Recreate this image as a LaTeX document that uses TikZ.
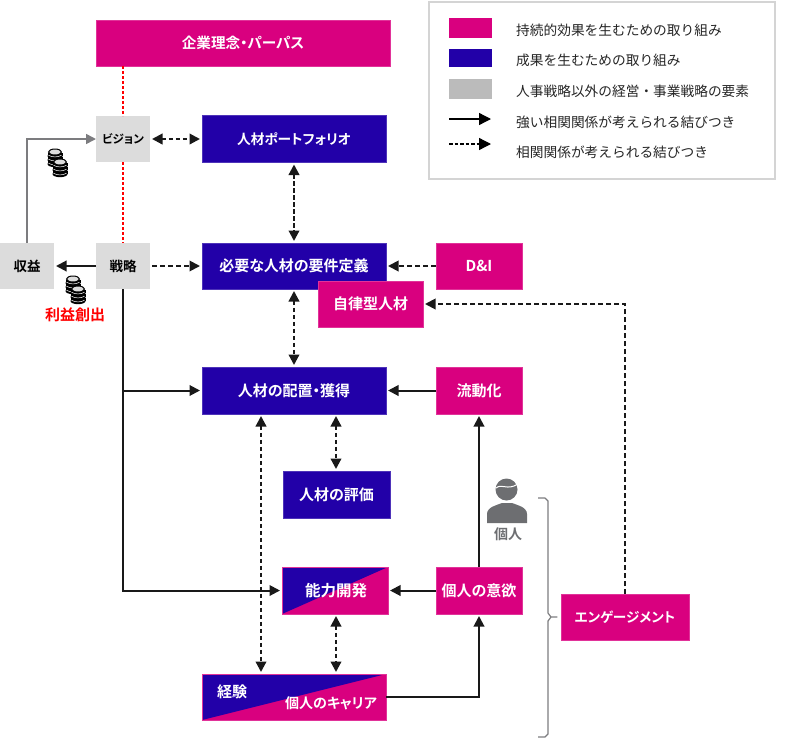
\documentclass[tikz,border=0pt]{standalone}
\usepackage{fontspec}
\setmainfont{Noto Sans CJK JP}
\newfontfamily\jpb{Noto Sans CJK JP Bold}[RawFeature=+palt]
\usetikzlibrary{arrows.meta}
\definecolor{mag}{HTML}{D9007F}
\definecolor{blu}{HTML}{2200A8}
\definecolor{lgr}{HTML}{DCDCDC}
\definecolor{mgr}{HTML}{BBBBBB}
\definecolor{dgr}{HTML}{6D6E71}
\newcommand{\bfs}[1]{\jpb\fontsize{#1}{#1}\selectfont}
\tikzset{
  x=1pt,y=-1pt,
  boxbase/.style={inner sep=0pt,outer sep=0pt,font=\bfs{15},text=white,draw=#1!80!white,line width=.5pt,fill=#1},
  pinkbox/.style={boxbase=mag},
  bluebox/.style={boxbase=blu},
  greybox/.style={inner sep=0pt,outer sep=0pt,fill=lgr,text=black,font=\bfs{13.5}},
  overtext/.style={inner sep=0pt,text=white},
  legendtext/.style={anchor=west,inner sep=0pt,font=\fontsize{13.7}{15}\selectfont,text=black!85},
  swatch/.style={inner sep=0pt,outer sep=0pt,minimum width=43pt,minimum height=20pt},
  headone/.tip={Triangle[length=10.5pt,width=10.5pt]},
  solidlink/.style={line width=2pt,black!90,-headone,shorten >=2pt},
  dashlink/.style={line width=1.9pt,black!90,dash pattern=on 5pt off 3pt,-headone,shorten >=2pt},
  duallink/.style={line width=2.2pt,black!90,dash pattern=on 4.5pt off 2.5pt,headone-headone,shorten >=2pt,shorten <=2pt},
  coinpic/.pic={
    \foreach \yy in {9,5,1}{
      \fill[black] (0,\yy+3) ellipse[x radius=7.5,y radius=3.2];
      \fill[black] (-7.5,\yy) rectangle (7.5,\yy+3);
      \draw[white,line width=.5pt] (-6.5,\yy+2.2) .. controls (-3,\yy+4.5) and (3,\yy+4.5) .. (6.5,\yy+2.2);
    }
    \fill[lgr,draw=black,line width=1pt] (0,0) ellipse[x radius=6.5,y radius=3];
  }
}
\begin{document}
\begin{tikzpicture}
\useasboundingbox (0,0) rectangle (800,742);

\node[pinkbox,font=\bfs{14.6},minimum width=294pt,minimum height=46pt] (top) at (243,43) {企業理念・パーパス};
\node[greybox,font=\bfs{11.6},minimum width=54pt,minimum height=46pt] (vis) at (123,139) {ビジョン};
\node[bluebox,font=\bfs{13.7},minimum width=184pt,minimum height=47pt] (port) at (294,139) {人材ポートフォリオ};
\node[greybox,minimum width=54pt,minimum height=46pt] (strat) at (123,266) {戦略};
\node[greybox,minimum width=54pt,minimum height=46pt] (inc) at (27,266) {収益};
\node[bluebox,minimum width=184pt,minimum height=46pt] (req) at (294,266) {必要な人材の要件定義};
\node[pinkbox,minimum width=86pt,minimum height=46pt] (di) at (479,266) {D\&I};
\node[pinkbox,minimum width=105pt,minimum height=46pt] (auto) at (370.5,304) {自律型人材};
\node[bluebox,minimum width=184pt,minimum height=47pt] (place) at (294,390.5) {人材の配置・獲得};
\node[pinkbox,minimum width=86pt,minimum height=47pt] (flow) at (479,390.5) {流動化};
\node[bluebox,minimum width=107pt,minimum height=47pt] (eval) at (336.5,494.5) {人材の評価};
\node[pinkbox,minimum width=86pt,minimum height=47pt] (will) at (479,590.5) {個人の意欲};
\node[pinkbox,font=\bfs{13.6},minimum width=128pt,minimum height=46pt] (eng) at (625,617) {エンゲージメント};

% two-colour boxes
\node[pinkbox,minimum width=106pt,minimum height=47pt,path picture={
  \fill[blu] (path picture bounding box.north west) -- (path picture bounding box.north east) -- (path picture bounding box.south west) -- cycle;}] (abil) at (335,590.5) {};
\node[overtext,font=\bfs{15.5}] (abilt) at (336,591) {能力開発};
\node[pinkbox,minimum width=184pt,minimum height=46pt,path picture={
  \fill[blu] (path picture bounding box.north west) -- (path picture bounding box.north east) -- (path picture bounding box.south west) -- cycle;}] (car) at (294,697) {};
\node[overtext,font=\bfs{15}] (cara) at (232,692) {経験};
\node[overtext,font=\bfs{14}] (carb) at (331,703) {個人のキャリア};

% label
\node[inner sep=0pt,text=red,font=\bfs{15}] (profit) at (75,315) {利益創出};

% fixed x-lines
\coordinate (xA) at (261,0);
\coordinate (xB) at (336,0);

% connectors
\draw[red,line width=1.3pt,dash pattern=on 3pt off 2pt] (top.south -| vis.north) -- (vis.north);
\draw[red,line width=1.3pt,dash pattern=on 3pt off 2pt] (vis.south) -- (strat.north);
\draw[duallink] (vis.east) -- (port.west);
\draw[duallink] (port.south) -- (req.north);
\draw[dashlink] ([xshift=2pt]strat.east) -- (req.west);
\draw[solidlink] (strat.west) -- (inc.east);
\draw[line width=1.6pt,dgr!90,-{Triangle[length=10pt,width=10pt]}] (inc.north) |- (vis.west);
\draw[dashlink] (di.west) -- (req.east);
\draw[dashlink] (eng.north) |- (auto.east);
\draw[duallink] (req.south) -- (req.south |- place.north);
\draw[solidlink] (strat.south) |- (abil.west);
\draw[solidlink] (strat.south |- place.west) -- (place.west);
\draw[solidlink] (flow.west) -- (place.east);
\draw[solidlink] (will.north) -- (flow.south);
\draw[solidlink] (will.west) -- (abil.east);
\draw[duallink] (place.south -| xB) -- (eval.north -| xB);
\draw[duallink] (place.south -| xA) -- (car.north -| xA);
\draw[duallink] (abil.south -| xB) -- (car.north -| xB);
\draw[solidlink] (car.east) -| (will.south);

% coins
\pic at (55,152) {coinpic};
\pic at (60,162) {coinpic};
\pic at (73,279) {coinpic};
\pic at (78,289) {coinpic};

% person
\fill[dgr] (506.5,489.5) circle[radius=11];
\draw[white,line width=1pt] (496,488) .. controls (502,483) and (507,491) .. (518,484);
\fill[dgr] (487,523) -- (487,514) .. controls (487,507) and (497,505) .. (502,503) -- (512,503) .. controls (517,505) and (527,507) .. (527,514) -- (527,523) -- cycle;
\node[inner sep=0pt,text=dgr,font=\bfs{14}] (person) at (508,534) {個人};

% bracket
\draw[dgr!90,line width=1.2pt,line join=round] (538,498) -- (545,498) -- (548,501) -- (548,613) -- (551,617) -- (557,617) -- (551,617) -- (548,621) -- (548,734) -- (545,737) -- (538,737);

% legend
\node[draw=black!17,line width=1.5pt,fill=white,minimum width=346pt,minimum height=177pt,inner sep=0pt] (legend) at (602,90.5) {};
\node[swatch,fill=mag] (sa) at (470.5,28) {};
\node[swatch,fill=blu,minimum height=18pt] (sb) at (470.5,58) {};
\node[swatch,fill=mgr] (sc) at (470.5,89) {};
\node[legendtext] (la) at (516,30) {持続的効果を生むための取り組み};
\node[legendtext] (lb) at (516,60) {成果を生むための取り組み};
\node[legendtext] (lc) at (516,91) {人事戦略以外の経営・事業戦略の要素};
\node[legendtext] (ld) at (516,122) {強い相関関係が考えられる結びつき};
\node[legendtext] (le) at (516,152) {相関関係が考えられる結びつき};
\coordinate (aa) at (449,119);
\coordinate (ab) at (491,119);
\coordinate (ac) at (449,144);
\coordinate (ad) at (491,144);
\draw[line width=1.3pt,black,-{Triangle[length=12pt,width=12pt]}] (aa) -- (ab);
\draw[line width=1.3pt,black,dash pattern=on 3.5pt off 2pt,-{Triangle[length=12pt,width=12pt]}] (ac) -- (ad);
\end{tikzpicture}
\end{document}
